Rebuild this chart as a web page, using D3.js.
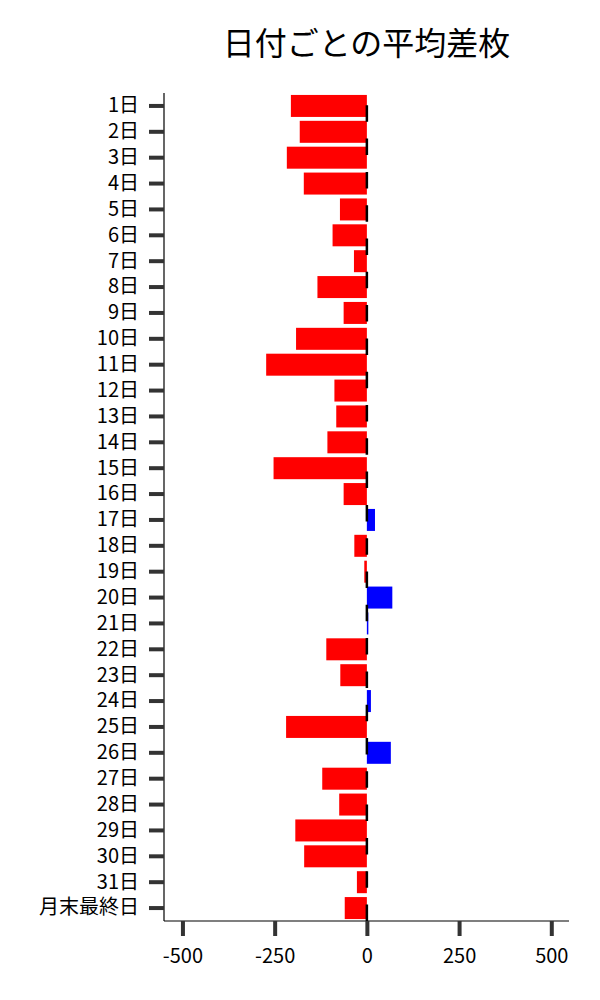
<!DOCTYPE html>
<html>
<head>
<meta charset="utf-8">
<script src="https://cdn.jsdelivr.net/npm/d3@7"></script>
<style>
  body { margin: 0; background: #fff; }
  text { font-family: "Noto Sans CJK JP", "Noto Sans", sans-serif; }
</style>
</head>
<body>
<svg id="svg1" width="600" height="1000"></svg>
<script>
// 日付ごとの平均差枚
var days = ["1日","2日","3日","4日","5日","6日","7日","8日","9日","10日",
  "11日","12日","13日","14日","15日","16日","17日","18日","19日","20日",
  "21日","22日","23日","24日","25日","26日","27日","28日","29日","30日",
  "31日","月末最終日"];
var diffs = [-206, -182, -217, -171, -73, -93, -35, -134, -63, -192,
  -273, -88, -83, -107, -253, -63, 22, -34, -7, 69,
  4, -110, -72, 11, -219, 65, -121, -75, -194, -170,
  -27, -60];
var xTicks = [-500, -250, 0, 250, 500];

var svg = d3.select("#svg1"),
  margin = {top: 93, right: 31, bottom: 79, left: 164},
  width = +svg.attr("width") - margin.left - margin.right,
  height = +svg.attr("height") - margin.top - margin.bottom,
  g = svg.append("g").attr("transform", "translate(" + margin.left + "," + margin.top + ")");

var x = d3.scaleLinear()
  .domain([-550, 548])
  .range([0, width]);
var y = d3.scaleBand()
  .domain(days)
  .range([0, height])
  .paddingInner(0.15)
  .paddingOuter(0.075);

svg.append("text")
  .attr("x", margin.left + width / 2)
  .attr("y", 55)
  .attr("text-anchor", "middle")
  .attr("font-size", 32)
  .attr("fill", "#000")
  .text("日付ごとの平均差枚");

g.selectAll(".bar")
  .data(diffs)
  .enter().append("rect")
    .attr("class", "bar")
    .attr("x", function(d) { return x(Math.min(0, d)); })
    .attr("y", function(d, i) { return y(days[i]); })
    .attr("width", function(d) { return Math.abs(x(d) - x(0)); })
    .attr("height", y.bandwidth())
    .attr("fill", function(d) { return d < 0 ? "#ff0000" : "#0000ff"; });

// dashed zero line, dashes start from the bottom
g.append("line")
  .attr("x1", x(0)).attr("x2", x(0))
  .attr("y1", height).attr("y2", 0)
  .attr("stroke", "#000")
  .attr("stroke-width", 2.5)
  .attr("stroke-dasharray", "16.5,16.8");

var yAxis = g.append("g")
  .call(d3.axisLeft(y).tickSize(15).tickPadding(10));
var xAxis = g.append("g")
  .attr("transform", "translate(0," + height + ")")
  .call(d3.axisBottom(x).tickValues(xTicks)
    .tickFormat(function(d) { return String(d); })
    .tickSize(15).tickPadding(13));

[yAxis, xAxis].forEach(function(a) {
  a.select(".domain").attr("stroke", "#000").attr("stroke-width", 1.2);
  a.selectAll(".tick line").attr("stroke", "#333").attr("stroke-width", 4);
  a.selectAll(".tick text")
    .attr("fill", "#000")
    .attr("font-size", 20)
    .attr("font-family", "'Noto Sans CJK JP', sans-serif");
});
// keep the outer ends flat like the original spines
yAxis.select(".domain").attr("d", "M0,0V" + height);
xAxis.select(".domain").attr("d", "M0,0H" + width);
</script>
</body>
</html>
